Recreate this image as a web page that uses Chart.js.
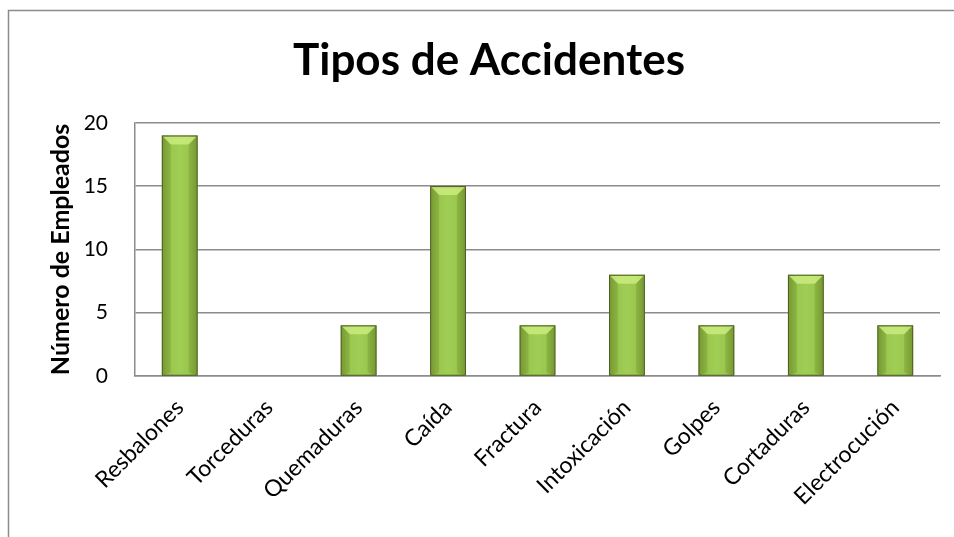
<!DOCTYPE html>
<html>
<head>
<meta charset="utf-8">
<script src="https://cdn.jsdelivr.net/npm/chart.js@4"></script>
<style>
html,body{margin:0;padding:0;background:#fff;}
#wrap{position:absolute;left:0;top:0;width:954px;height:537px;}
</style>
</head>
<body>
<div id="wrap"><canvas id="c" width="954" height="537"></canvas></div>
<script>
const categories = ['Resbalones','Torceduras','Quemaduras','Caída','Fractura','Intoxicación','Golpes','Cortaduras','Electrocución'];
const empleados = [19, 0, 4, 15, 4, 8, 4, 8, 4];
const yTicks = [0, 5, 10, 15, 20];
const chartTitle = 'Tipos de Accidentes';
const yTitle = 'Número de Empleados';

const FONT = 'Lato, "Open Sans", sans-serif';

const frame = {
  id: 'frame',
  beforeDraw(chart) {
    const ctx = chart.ctx;
    ctx.save();
    ctx.strokeStyle = '#8c8c8c';
    ctx.lineWidth = 1.5;
    ctx.strokeRect(8.5, 10.5, 1000, 600);
    ctx.restore();
  }
};

const bevel = {
  id: 'bevel',
  afterDatasetsDraw(chart) {
    const ctx = chart.ctx;
    const meta = chart.getDatasetMeta(0);
    ctx.save();
    meta.data.forEach((bar) => {
      const h = bar.base - bar.y;
      if (h < 2) return;
      const l = bar.x - bar.width / 2, r = bar.x + bar.width / 2, t = bar.y;
      const d = Math.min(9, h / 2);
      ctx.fillStyle = 'rgba(205,238,130,0.8)';
      ctx.beginPath();
      ctx.moveTo(l + 1, t + 1);
      ctx.lineTo(r - 1, t + 1);
      ctx.lineTo(r - d, t + d);
      ctx.lineTo(l + d, t + d);
      ctx.closePath();
      ctx.fill();
      ctx.fillStyle = 'rgba(90,120,30,0.22)';
      ctx.beginPath();
      ctx.moveTo(l + 1, t + 1);
      ctx.lineTo(l + d, t + d);
      ctx.lineTo(l + d, bar.base - 3);
      ctx.lineTo(l + 1, bar.base);
      ctx.closePath();
      ctx.fill();
      ctx.beginPath();
      ctx.moveTo(r - 1, t + 1);
      ctx.lineTo(r - d, t + d);
      ctx.lineTo(r - d, bar.base - 3);
      ctx.lineTo(r - 1, bar.base);
      ctx.closePath();
      ctx.fill();
      ctx.strokeStyle = '#4a5f22';
      ctx.lineWidth = 1;
      ctx.strokeRect(l + 0.5, t + 0.5, bar.width - 1, h - 0.5);
    });
    ctx.restore();
  }
};

function barFill(context) {
  const chart = context.chart;
  const xs = chart.scales.x;
  if (!xs || !chart.chartArea) return '#92BF48';
  const cx = xs.getPixelForValue(context.dataIndex);
  const w = (chart.chartArea.right - chart.chartArea.left) / categories.length * 0.4;
  const g = chart.ctx.createLinearGradient(cx - w / 2, 0, cx + w / 2, 0);
  g.addColorStop(0, '#7fa236');
  g.addColorStop(0.25, '#9ac84e');
  g.addColorStop(0.5, '#a0cd54');
  g.addColorStop(0.75, '#9ac84e');
  g.addColorStop(1, '#7fa236');
  return g;
}

new Chart(document.getElementById('c'), {
  type: 'bar',
  data: {
    labels: categories,
    datasets: [{
      data: empleados,
      backgroundColor: barFill,
      borderWidth: 0,
      barPercentage: 0.4,
      categoryPercentage: 1.0
    }]
  },
  options: {
    responsive: false,
    animation: false,
    layout: { padding: { left: 38, right: 14, top: 0, bottom: 0 } },
    plugins: {
      legend: { display: false },
      tooltip: { enabled: false },
      title: {
        display: true,
        text: chartTitle,
        color: '#000',
        font: { family: FONT, size: 44, weight: 'bold', lineHeight: 1.2 },
        padding: { top: 34, bottom: 36 }
      }
    },
    scales: {
      x: {
        grid: { display: false, drawTicks: false },
        border: { display: true, color: '#8c8c8c', width: 1.5 },
        ticks: {
          color: '#000',
          font: { family: FONT, size: 23 },
          minRotation: 45, maxRotation: 45,
          padding: 18,
          autoSkip: false
        },
        afterFit(scale) { scale.height = 161; }
      },
      y: {
        min: 0, max: 20,
        afterBuildTicks(scale) { scale.ticks = yTicks.map(v => ({ value: v })); },
        grid: { color: '#8c8c8c', lineWidth: 1.5, drawTicks: false },
        border: { display: true, color: '#8c8c8c', width: 1.5 },
        ticks: {
          color: '#000',
          font: { family: FONT, size: 21 },
          padding: 27
        },
        title: {
          display: true,
          text: yTitle,
          color: '#000',
          font: { family: FONT, size: 25, weight: 'bold', lineHeight: 1.2 },
          padding: { top: 8, bottom: 0 }
        },
        afterFit(scale) { scale.width = 97; }
      }
    }
  },
  plugins: [frame, bevel]
});
</script>
</body>
</html>
